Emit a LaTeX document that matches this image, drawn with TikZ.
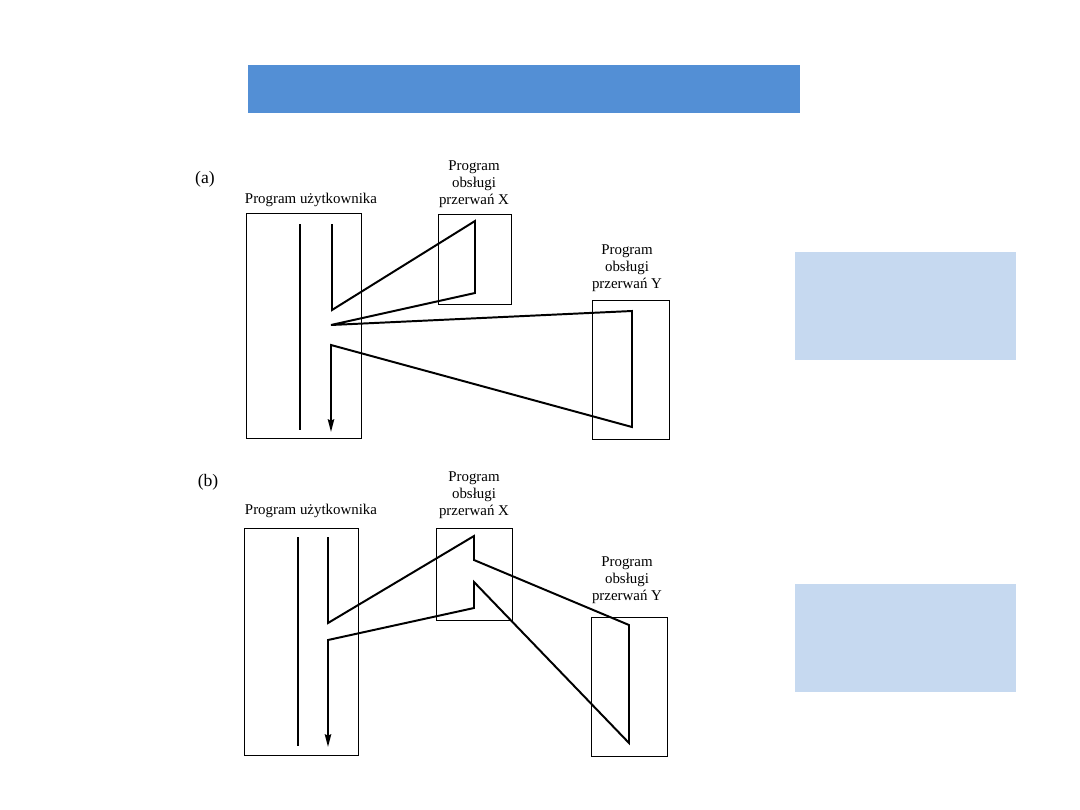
\documentclass[tikz,border=0pt]{standalone}
\usepackage{fontspec}
\setmainfont{Liberation Serif}
\usetikzlibrary{arrows.meta}
\definecolor{bannerblue}{RGB}{83,143,213}
\definecolor{paleblue}{RGB}{198,217,240}
\tikzset{
  lbl/.style={font=\fontsize{10.6}{12}\selectfont, align=center, inner sep=0pt},
  frame/.style={line width=0.6pt},
  flow/.style={line width=1.4pt, line join=miter},
}
\begin{document}
\begin{tikzpicture}[x=0.025cm, y=-0.025cm, >={Stealth[length=9pt,width=4.5pt,inset=1pt]}]
        \useasboundingbox (0,0) rectangle (1080,810);
        \fill[bannerblue] (248,65) rectangle (800,113);
        \fill[paleblue] (795,252) rectangle (1016,360);
        \fill[paleblue] (795,584) rectangle (1016,692);

        % (a)
        \node[lbl, font=\fontsize{12.5}{14}\selectfont] (tagA) at (205,179) {(a)};
        \node[lbl] (userA) at (311,200) {Program użytkownika};
        \node[lbl] (isrXA) at (474,184) {Program\\obsługi\\przerwań X};
        \node[lbl] (isrYA) at (627,268) {Program\\obsługi\\przerwań Y};
        \draw[frame] (246,213) rectangle (361,438);
        \draw[frame] (438,214) rectangle (511,304);
        \draw[frame] (592,300) rectangle (669,439);
        \draw[flow] (300,224) -- (300,430);
        \draw[flow, ->] (332,224) -- (332,310) -- (475,221) -- (475,293)
          -- (331,325) -- (632,311) -- (632,427) -- (331,345) -- (331,432);

        % (b)
        \node[lbl, font=\fontsize{12.5}{14}\selectfont] (tagB) at (208,482) {(b)};
        \node[lbl] (userB) at (311,511) {Program użytkownika};
        \node[lbl] (isrXB) at (474,495) {Program\\obsługi\\przerwań X};
        \node[lbl] (isrYB) at (627,580) {Program\\obsługi\\przerwań Y};
        \draw[frame] (244,528) rectangle (358,755);
        \draw[frame] (436,528) rectangle (512,620);
        \draw[frame] (591,617) rectangle (667,756);
        \draw[flow] (298,537) -- (298,746);
        \draw[flow, ->] (328,537) -- (328,623) -- (474,536) -- (474,560)
          -- (629,625) -- (629,743) -- (474,582) -- (474,608)
          -- (328,640) -- (328,747);
\end{tikzpicture}
\end{document}
